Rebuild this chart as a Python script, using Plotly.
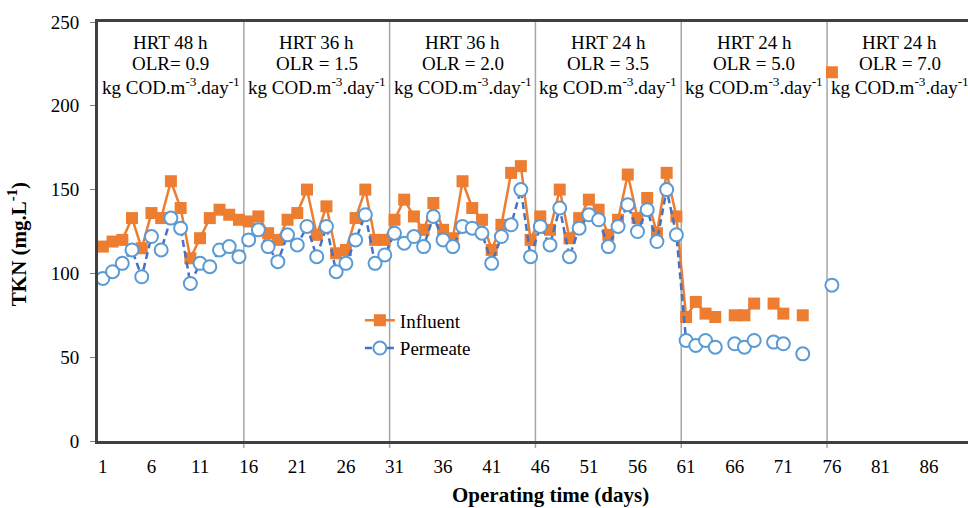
import plotly.graph_objects as go

days = list(range(1, 77))

influent = [116, 119, 120, 133, 115, 136, 133, 155, 139, 109,
            121, 133, 138, 135, 132, 131, 134, 124, 120, 132,
            136, 150, 123, 140, 112, 114, 133, 150, 120, 120,
            132, 144, 134, 126, 142, 126, 121, 155, 139, 132,
            114, 129, 160, 164, 120, 134, 126, 150, 121, 133,
            144, 138, 123, 132, 159, 133, 145, 124, 160, 134,
            74, 83, 76, 74, None, 75, 75, 82, None, 82,
            76, None, 75, None, None, 220]

permeate = [97, 101, 106, 114, 98, 122, 114, 133, 127, 94,
            106, 104, 114, 116, 110, 120, 126, 116, 107, 123,
            117, 128, 110, 128, 101, 106, 120, 135, 106, 111,
            124, 118, 122, 116, 134, 120, 116, 128, 127, 124,
            106, 122, 129, 150, 110, 128, 117, 139, 110, 127,
            135, 132, 116, 128, 141, 125, 138, 119, 150, 123,
            60, 57, 60, 56, None, 58, 56, 60, None, 59,
            58, None, 52, None, None, 93]

x_ticks = list(range(1, 87, 5))
dividers = [15.5, 30.5, 45.5, 60.5, 75.5]
phase_centers = [8, 23, 38, 53, 68, 83]
phase_hrt = ["HRT 48 h", "HRT 36 h", "HRT 36 h", "HRT 24 h", "HRT 24 h", "HRT 24 h"]
phase_olr = ["OLR= 0.9", "OLR = 1.5", "OLR = 2.0", "OLR = 3.5", "OLR = 5.0", "OLR = 7.0"]
olr_unit = "kg COD.m<sup>-3</sup>.day<sup>-1</sup>"

FONT = "Liberation Serif, Times New Roman, DejaVu Serif, serif"

fig = go.Figure()
fig.add_trace(go.Scatter(
    x=days, y=influent, name="Influent", mode="lines+markers",
    line=dict(color="#ED7D31", width=2.5),
    marker=dict(symbol="square", size=12, color="#ED7D31"),
    connectgaps=False,
))
fig.add_trace(go.Scatter(
    x=days, y=permeate, name="Permeate", mode="lines+markers",
    line=dict(color="#4472C4", width=2.5, dash="7px,4px"),
    marker=dict(symbol="circle", size=13, color="white",
                line=dict(color="#5B9BD5", width=2)),
    connectgaps=False,
))

shapes = []
for d in dividers:
    shapes.append(dict(type="line", xref="x", yref="paper", x0=d, x1=d,
                       y0=-0.017, y1=1, line=dict(color="#A6A6A6", width=1.5),
                       layer="below"))
fig.update_layout(shapes=shapes)

annotations = []
for c, h, o in zip(phase_centers, phase_hrt, phase_olr):
    for txt, yy in ((h, 0.952), (o, 0.900), (olr_unit, 0.848)):
        annotations.append(dict(x=c, y=yy, xref="x", yref="paper", text=txt,
                                showarrow=False, xanchor="center", yanchor="middle",
                                font=dict(family=FONT, size=19, color="#000000")))
annotations.append(dict(x=47, y=-0.129, xref="x", yref="paper",
                        text="<b>Operating time (days)</b>", showarrow=False,
                        xanchor="center", yanchor="middle",
                        font=dict(family=FONT, size=21, color="#000000")))
annotations.append(dict(x=-0.093, y=0.47, xref="paper", yref="paper",
                        text="<b>TKN (mg.L<sup>-1</sup>)</b>", showarrow=False,
                        textangle=-90, xanchor="center", yanchor="middle",
                        font=dict(family=FONT, size=21, color="#000000")))

fig.update_layout(
    annotations=annotations,
    width=968, height=508,
    margin=dict(l=98, r=0, t=22, b=67),
    paper_bgcolor="white", plot_bgcolor="white",
    font=dict(family=FONT, size=19, color="#000000"),
    showlegend=True,
    legend=dict(x=0.301, y=0.333, xanchor="left", yanchor="top",
                bgcolor="rgba(0,0,0,0)", font=dict(family=FONT, size=19),
                tracegroupgap=0),
    xaxis=dict(range=[0.5, 90.0], tickmode="array", tickvals=x_ticks,
               ticktext=[str(t) for t in x_ticks], showgrid=False,
               zeroline=False, showline=True, linecolor="#404040",
               linewidth=2.5, mirror=True, ticks="", ticklabelstandoff=6,
               tickfont=dict(family=FONT, size=19, color="#000000")),
    yaxis=dict(range=[0, 250], tickvals=[0, 50, 100, 150, 200, 250],
               showgrid=False, zeroline=False, showline=True,
               linecolor="#404040", linewidth=3, ticks="outside",
               ticklen=5, tickcolor="#808080", ticklabelstandoff=7,
               tickfont=dict(family=FONT, size=19, color="#000000")),
)

fig.write_html("out.html", config={"displayModeBar": False},
               post_script="document.body.style.margin='0';document.body.style.overflow='hidden';")
